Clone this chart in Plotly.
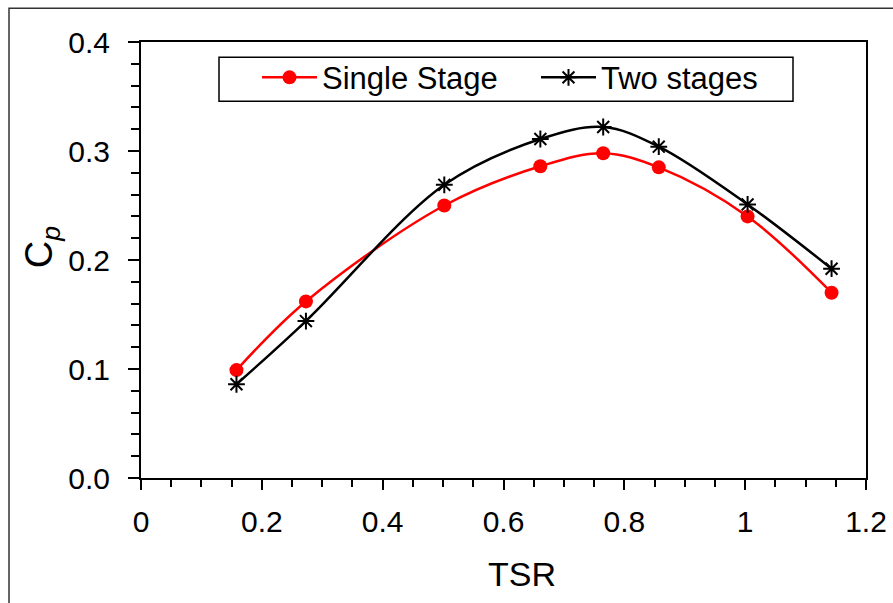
import plotly.graph_objects as go

# Data
tsr = [0.158, 0.273, 0.502, 0.661, 0.765, 0.857, 1.004, 1.143]
cp_single = [0.099, 0.162, 0.250, 0.286, 0.298, 0.285, 0.240, 0.170]
cp_two = [0.086, 0.144, 0.269, 0.311, 0.322, 0.304, 0.251, 0.192]

x_ticks = [0, 0.2, 0.4, 0.6, 0.8, 1.0, 1.2]
x_ticklabels = ["0", "0.2", "0.4", "0.6", "0.8", "1", "1.2"]
y_ticks = [0.0, 0.1, 0.2, 0.3, 0.4]
y_ticklabels = ["0.0", "0.1", "0.2", "0.3", "0.4"]

FONT = "Liberation Sans, Arial, sans-serif"

fig = go.Figure()
fig.add_trace(go.Scatter(
    x=tsr, y=cp_single, name="Single Stage", mode="lines+markers",
    line=dict(color="#FF0000", width=2.5, shape="spline", smoothing=1),
    marker=dict(symbol="circle", size=14, color="#FF0000"),
))
fig.add_trace(go.Scatter(
    x=tsr, y=cp_two, name="Two stages", mode="lines+markers",
    line=dict(color="black", width=2.5, shape="spline", smoothing=1),
    marker=dict(symbol="asterisk-open", size=14, color="black",
                line=dict(color="black", width=2)),
))

axis_common = dict(
    showgrid=False, zeroline=False, showline=True, linecolor="black",
    linewidth=2, mirror=True, ticks="outside", tickcolor="black",
    tickwidth=2, tickfont=dict(family=FONT, size=30, color="black"),
    automargin=False,
)

fig.update_xaxes(
    range=[0, 1.2], tickvals=x_ticks, ticktext=x_ticklabels, ticklen=10,
    minor=dict(dtick=0.05, ticklen=7, ticks="outside", tickcolor="black", tickwidth=2),
    ticklabelstandoff=6,
    **axis_common,
)
fig.update_yaxes(
    range=[0, 0.4], tickvals=y_ticks, ticktext=y_ticklabels, ticklen=11,
    minor=dict(dtick=0.02, ticklen=8, ticks="outside", tickcolor="black", tickwidth=2),
    ticklabelstandoff=12,
    **axis_common,
)

fig.update_layout(
    width=893, height=603,
    margin=dict(l=141, r=27, t=42, b=125),
    paper_bgcolor="white", plot_bgcolor="white",
    font=dict(family=FONT, color="black"),
    showlegend=True,
    legend=dict(
        orientation="h", x=(262 - 141 - 5) / 725, y=0.98, xanchor="left", yanchor="top",
        bgcolor="rgba(0,0,0,0)", borderwidth=0,
        font=dict(family=FONT, size=31, color="black"),
        itemwidth=55, entrywidth=209, entrywidthmode="pixels",
    ),
    shapes=[
        # legend box
        dict(type="rect", xref="paper", yref="paper",
             x0=(219 - 141) / 725, x1=(793 - 141) / 725,
             y0=(477.7 - 101) / 436, y1=(477.7 - 57) / 436,
             line=dict(color="black", width=1.5), fillcolor="rgba(0,0,0,0)"),
        # outer chart frame
        dict(type="rect", xref="paper", yref="paper",
             x0=(9 - 141) / 725, x1=1.2, y0=-0.5, y1=(477.7 - 8) / 436,
             line=dict(color="#333333", width=1.5), fillcolor="rgba(0,0,0,0)"),
    ],
    annotations=[
        dict(text="TSR", xref="paper", yref="paper",
             x=(521.7 - 141) / 725, y=(477.7 - 574) / 436,
             xanchor="center", yanchor="middle", showarrow=False,
             font=dict(family=FONT, size=34, color="black")),
        dict(text="C<sub><i>p</i></sub>", xref="paper", yref="paper",
             x=(42 - 141) / 725, y=(477.7 - 247) / 436, textangle=-90,
             xanchor="center", yanchor="middle", showarrow=False,
             font=dict(family=FONT, size=38, color="black")),
    ],
)

fig.write_html("out.html", config={"displayModeBar": False},
               post_script="document.body.style.margin='0';")
